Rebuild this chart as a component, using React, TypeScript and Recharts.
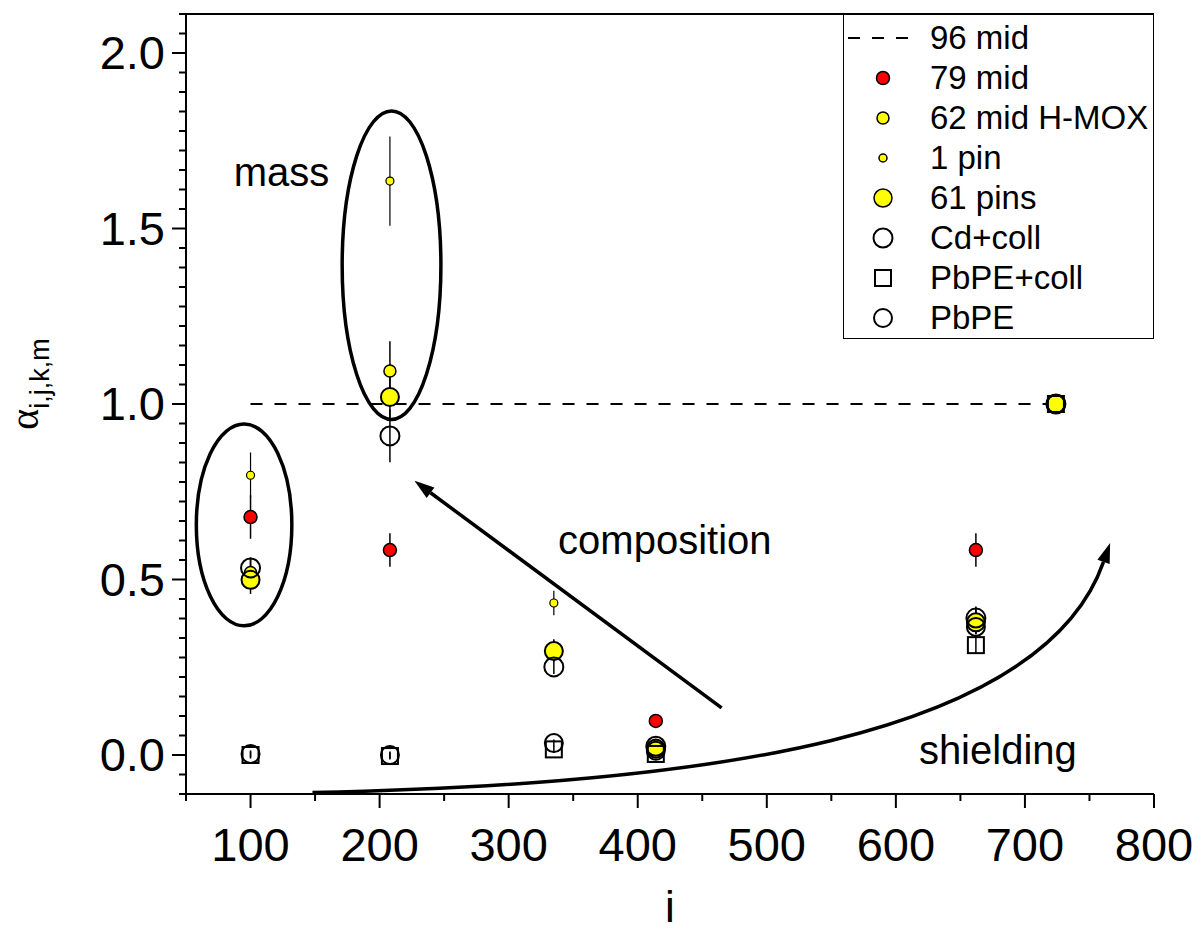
import React from 'react';
import {
  ScatterChart,
  Scatter,
  XAxis,
  YAxis,
  ErrorBar,
  ReferenceArea,
  ReferenceLine,
  ReferenceDot,
  Legend,
} from 'recharts';

// ---------- data ----------
const xPositions = [100, 208, 335, 414, 662, 724];

const mid96Y = [1, 1, 1, 1, 1, 1];

const mid79X = [100, 208, 414, 662, 724];
const mid79Y = [0.678, 0.584, 0.097, 0.584, 1.0];
const mid79Err = [0.062, 0.048, 0.012, 0.048, 0];

const mid62Y = [0.52, 1.094, 0.3, 0.028, 0.383, 1.0];
const mid62Err = [0.04, 0.085, 0.03, 0.01, 0.04, 0];

const pin1X = [100, 208, 335, 724];
const pin1Y = [0.797, 1.635, 0.433, 1.0];
const pin1Err = [0.065, 0.127, 0.035, 0];

const pins61Y = [0.499, 1.02, 0.296, 0.018, 0.378, 1.0];
const pins61Err = [0.04, 0.06, 0.03, 0.01, 0.03, 0];

const cdCollY = [0.533, 0.909, 0.251, 0.025, 0.39, 1.0];
const cdCollErr = [0.03, 0.075, 0.02, 0.01, 0.03, 0];

const pbpeCollY = [0.0, -0.003, 0.016, 0.003, 0.313, 1.0];
const pbpeCollErr = [0.01, 0.01, 0.01, 0.01, 0.025, 0];

const pbpeY = [0.003, 0.0, 0.034, 0.012, 0.365, 1.0];
const pbpeErr = [0.01, 0.01, 0.01, 0.01, 0.02, 0];

const xMajorTicks = [100, 200, 300, 400, 500, 600, 700, 800];
const yMajorTicks = [0, 0.5, 1.0, 1.5, 2.0];
const yTickLabels = ['0.0', '0.5', '1.0', '1.5', '2.0'];
const xDomain: [number, number] = [50, 800];
const yMinorPerMajor = 9; // 8 minor ticks between majors
const yStep = 0.5 / yMinorPerMajor;
const yDomain: [number, number] = [-2 * yStep, 2.0 + 2 * yStep];

const legendItems = [
  { name: '96 mid', kind: 'dash' },
  { name: '79 mid', kind: 'circle', r: 6.5, fill: '#ff0000' },
  { name: '62 mid H-MOX', kind: 'circle', r: 6, fill: '#ffff00' },
  { name: '1 pin', kind: 'circle', r: 4, fill: '#ffff00' },
  { name: '61 pins', kind: 'circle', r: 9, fill: '#ffff00' },
  { name: 'Cd+coll', kind: 'circle', r: 9.5, fill: 'none' },
  { name: 'PbPE+coll', kind: 'square', r: 8, fill: 'none' },
  { name: 'PbPE', kind: 'circle', r: 9, fill: 'none' },
];

// annotations in data coordinates
const massEllipse1 = { x1: 58, x2: 132, y1: 0.368, y2: 0.943 };
const massEllipse2 = { x1: 171, x2: 247.5, y1: 0.956, y2: 1.835 };
const compositionArrow = [{ x: 465, y: 0.134 }, { x: 227, y: 0.781 }];
const shieldingArrow = [{ x: 148, y: -0.107 }, { x: 766, y: 0.604 }];
const labels = [
  { text: 'mass', x: 124, y: 1.661 },
  { text: 'composition', x: 421, y: 0.613 },
  { text: 'shielding', x: 679, y: 0.014 },
];

// ---------- helpers ----------
const pts = (xs: number[], ys: number[], errs?: number[]) =>
  xs.map((x, i) => ({ x, y: ys[i], err: errs ? errs[i] : 0 }));

const FONT = 'Liberation Sans, Arial, sans-serif';

const circleShape = (r: number, fill: string, sw: number) => (p: any) =>
  <circle cx={p.cx} cy={p.cy} r={r} fill={fill} stroke="#000" strokeWidth={sw} />;
const squareShape = (h: number, sw: number) => (p: any) =>
  <rect x={p.cx - h} y={p.cy - h} width={2 * h} height={2 * h} fill="none" stroke="#000" strokeWidth={sw} />;

const xTicksAll: number[] = [];
for (let v = xDomain[0]; v <= xDomain[1]; v += 50) xTicksAll.push(v);
const yTicksAll: number[] = [];
for (let k = -2; k <= 4 * yMinorPerMajor + 2; k++) yTicksAll.push(Math.round(k * yStep * 1e6) / 1e6);

const XTick = (props: any) => {
  const { x, y, payload } = props;
  const v = payload.value;
  const major = xMajorTicks.includes(v);
  return (
    <g>
      <line x1={x} y1={y} x2={x} y2={y + (major ? 14 : 7)} stroke="#000" strokeWidth={2} />
      {major && (
        <text x={x} y={y + 67} textAnchor="middle" fontSize={47} fontFamily={FONT} fill="#000">
          {v}
        </text>
      )}
    </g>
  );
};

const YTick = (props: any) => {
  const { x, y, payload } = props;
  const v = payload.value;
  const idx = yMajorTicks.findIndex((m) => Math.abs(m - v) < 1e-4);
  const major = idx >= 0;
  return (
    <g>
      <line x1={x} y1={y} x2={x - (major ? 14 : 7)} y2={y} stroke="#000" strokeWidth={2} />
      {major && (
        <text x={x - 21} y={y + 16} textAnchor="end" fontSize={47} fontFamily={FONT} fill="#000">
          {yTickLabels[idx]}
        </text>
      )}
    </g>
  );
};

const EllipseShape = (p: any) => (
  <ellipse
    cx={p.x + p.width / 2}
    cy={p.y + p.height / 2}
    rx={Math.abs(p.width) / 2}
    ry={Math.abs(p.height) / 2}
    fill="none"
    stroke="#000"
    strokeWidth={3.5}
  />
);

const arrowHead = (tx: number, ty: number, ang: number) => {
  const L = 20;
  const W = 6.5;
  const bx = tx - L * Math.cos(ang);
  const by = ty - L * Math.sin(ang);
  const px = -Math.sin(ang) * W;
  const py = Math.cos(ang) * W;
  return { bx, by, pts: `${tx},${ty} ${bx + px},${by + py} ${bx - px},${by - py}` };
};

const StraightArrow = (p: any) => {
  const { x1, y1, x2, y2 } = p;
  const ang = Math.atan2(y2 - y1, x2 - x1);
  const h = arrowHead(x2, y2, ang);
  return (
    <g>
      <line x1={x1} y1={y1} x2={h.bx} y2={h.by} stroke="#000" strokeWidth={3.5} />
      <polygon points={h.pts} fill="#000" />
    </g>
  );
};

const CurvedArrow = (p: any) => {
  const { x1, y1, x2, y2 } = p;
  const dx = x2 - x1;
  const dy = y2 - y1;
  const c1x = x1 + 0.487 * dx;
  const c1y = y1 + 0.032 * dy;
  const c2x = x1 + 0.914 * dx;
  const c2y = y1 + 0.214 * dy;
  const ang = Math.atan2(y2 - c2y, x2 - c2x);
  const h = arrowHead(x2, y2, ang);
  return (
    <g>
      <path
        d={`M${x1},${y1} C${c1x},${c1y} ${c2x},${c2y} ${h.bx},${h.by}`}
        fill="none"
        stroke="#000"
        strokeWidth={3.5}
      />
      <polygon points={h.pts} fill="#000" />
    </g>
  );
};

const LegendContent = () => (
  <div
    style={{
      position: 'relative',
      width: 311,
      height: 325,
      boxSizing: 'border-box',
      border: '1.5px solid #000',
      background: '#fff',
      fontFamily: FONT,
      fontSize: 33,
      color: '#000',
    }}
  >
    {legendItems.map((it, i) => (
      <div
        key={it.name}
        style={{ position: 'absolute', left: 0, top: 3 + i * 40, height: 40, width: 309, display: 'flex', alignItems: 'center' }}
      >
        <svg width={86} height={40} style={{ display: 'block' }}>
          {it.kind === 'dash' && (
            <line x1={4} y1={20} x2={70} y2={20} stroke="#000" strokeWidth={2} strokeDasharray="12 12" />
          )}
          {it.kind === 'circle' && (
            <circle cx={39} cy={20} r={it.r} fill={it.fill} stroke="#000" strokeWidth={it.fill === 'none' ? 2 : 1.5} />
          )}
          {it.kind === 'square' && (
            <rect x={39 - (it.r as number)} y={20 - (it.r as number)} width={2 * (it.r as number)} height={2 * (it.r as number)} fill="none" stroke="#000" strokeWidth={2} />
          )}
        </svg>
        <span style={{ lineHeight: '40px', whiteSpace: 'nowrap' }}>{it.name}</span>
      </div>
    ))}
  </div>
);

const YLabel = () => (
  <text transform="rotate(-90, 38, 384)" x={38} y={384} textAnchor="middle" fill="#000">
    <tspan fontFamily="Liberation Serif, Times New Roman, serif" fontSize={40}>α</tspan>
    <tspan fontFamily={FONT} fontSize={27} dy={11}>i,j,k,m</tspan>
  </text>
);

const errProps = { dataKey: 'err', direction: 'y' as const, width: 0, stroke: '#000', strokeWidth: 1.5 };

export default function App() {
  return (
    <div style={{ position: 'absolute', left: 0, top: 0, background: '#fff' }}>
      <ScatterChart width={1204} height={933} margin={{ top: 14, right: 50, bottom: 0, left: 0 }}>
        <XAxis
          dataKey="x"
          type="number"
          domain={xDomain}
          ticks={xTicksAll}
          interval={0}
          tickLine={false}
          tickSize={0}
          tickMargin={0}
          tick={<XTick />}
          axisLine={{ stroke: '#000', strokeWidth: 2 }}
          height={139}
          allowDataOverflow
        />
        <YAxis
          dataKey="y"
          type="number"
          domain={yDomain}
          ticks={yTicksAll}
          interval={0}
          tickLine={false}
          tickSize={0}
          tickMargin={0}
          tick={<YTick />}
          axisLine={{ stroke: '#000', strokeWidth: 2 }}
          width={186}
          allowDataOverflow
        />
        <ReferenceLine y={yDomain[1]} stroke="#000" strokeWidth={2} ifOverflow="visible" />

        <Scatter
          name="96 mid"
          data={pts(xPositions, mid96Y)}
          isAnimationActive={false}
          shape={() => <g />}
          line={{ stroke: '#000', strokeWidth: 2, strokeDasharray: '12 12' }}
          lineType="joint"
        />
        <Scatter name="79 mid" data={pts(mid79X, mid79Y, mid79Err)} isAnimationActive={false} shape={circleShape(6.5, '#ff0000', 1.5)}>
          <ErrorBar {...errProps} />
        </Scatter>
        <Scatter name="62 mid H-MOX" data={pts(xPositions, mid62Y, mid62Err)} isAnimationActive={false} shape={circleShape(6, '#ffff00', 1.5)}>
          <ErrorBar {...errProps} />
        </Scatter>
        <Scatter name="1 pin" data={pts(pin1X, pin1Y, pin1Err)} isAnimationActive={false} shape={circleShape(4, '#ffff00', 1.2)}>
          <ErrorBar {...errProps} strokeWidth={1.2} />
        </Scatter>
        <Scatter name="61 pins" data={pts(xPositions, pins61Y, pins61Err)} isAnimationActive={false} shape={circleShape(9, '#ffff00', 2)}>
          <ErrorBar {...errProps} />
        </Scatter>
        <Scatter name="Cd+coll" data={pts(xPositions, cdCollY, cdCollErr)} isAnimationActive={false} shape={circleShape(9.5, 'none', 2)}>
          <ErrorBar {...errProps} />
        </Scatter>
        <Scatter name="PbPE+coll" data={pts(xPositions, pbpeCollY, pbpeCollErr)} isAnimationActive={false} shape={squareShape(8, 2)}>
          <ErrorBar {...errProps} />
        </Scatter>
        <Scatter name="PbPE" data={pts(xPositions, pbpeY, pbpeErr)} isAnimationActive={false} shape={circleShape(9, 'none', 2)}>
          <ErrorBar {...errProps} />
        </Scatter>

        <ReferenceArea {...massEllipse1} shape={EllipseShape} ifOverflow="visible" />
        <ReferenceArea {...massEllipse2} shape={EllipseShape} ifOverflow="visible" />
        <ReferenceLine segment={compositionArrow} shape={StraightArrow} ifOverflow="visible" />
        <ReferenceLine segment={shieldingArrow} shape={CurvedArrow} ifOverflow="visible" />
        {labels.map((l) => (
          <ReferenceDot
            key={l.text}
            x={l.x}
            y={l.y}
            r={0}
            ifOverflow="visible"
            shape={(p: any) => (
              <text x={p.cx} y={p.cy} dy={14} textAnchor="middle" fontSize={40} fontFamily={FONT} fill="#000">
                {l.text}
              </text>
            )}
          />
        ))}
        <text x={670} y={922} textAnchor="middle" fontSize={44} fontFamily={FONT} fill="#000">i</text>
        <YLabel />
        <Legend
          layout="vertical"
          align="center"
          verticalAlign="middle"
          content={<LegendContent />}
          wrapperStyle={{ left: 843, top: 14, width: 311, height: 325 }}
        />
      </ScatterChart>
    </div>
  );
}
